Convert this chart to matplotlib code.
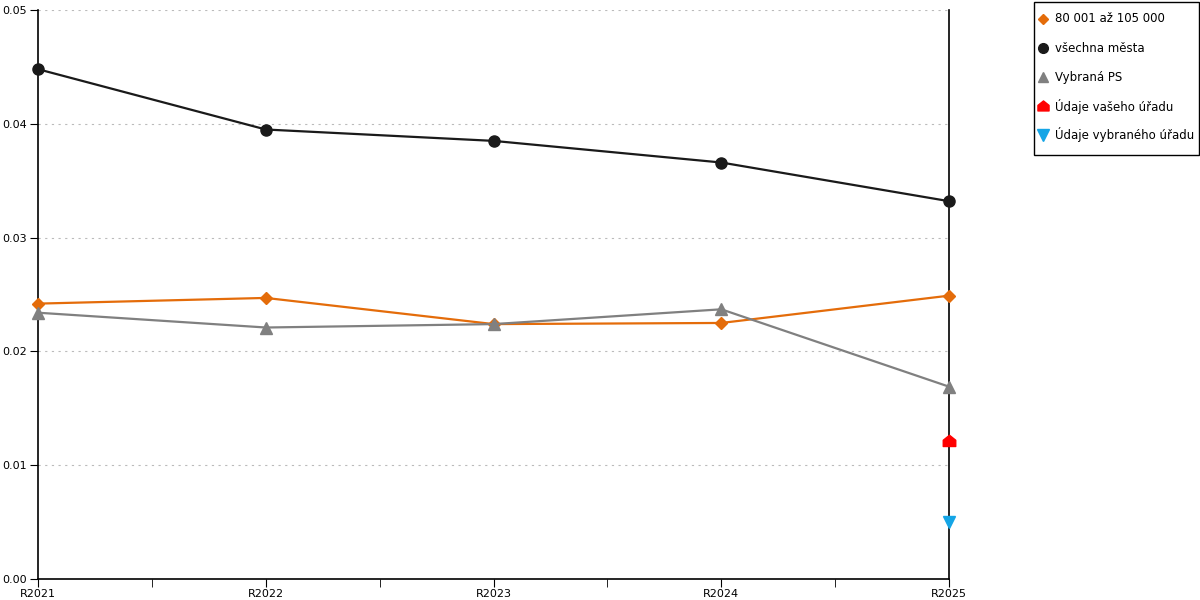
import matplotlib
matplotlib.use("Agg")
import matplotlib.pyplot as plt
from matplotlib.path import Path
from matplotlib.patches import Rectangle
from matplotlib.lines import Line2D

years = ["R2021", "R2022", "R2023", "R2024", "R2025"]

# values
group_80_105 = [0.0242, 0.0247, 0.0224, 0.0225, 0.0249]
all_cities = [0.0448, 0.0395, 0.0385, 0.0366, 0.0332]
selected_ps = [0.0234, 0.0221, 0.0224, 0.0237, 0.0169]
your_office = [0.0121]
selected_office = [0.0050]

plt.rcParams['font.family'] = ['DejaVu Sans']

fig = plt.figure(figsize=(12, 6), dpi=100)
ax = fig.add_axes([0.0317, 0.035, 0.7592, 0.9483])

x = list(range(len(years)))
last = [x[-1]]

# house-shaped marker for "Údaje vašeho úřadu"
house = Path([(-1, -0.8), (1, -0.8), (1, 0.2), (0, 1), (-1, 0.2), (-1, -0.8)],
             [Path.MOVETO, Path.LINETO, Path.LINETO, Path.LINETO, Path.LINETO, Path.CLOSEPOLY])

ax.plot(x, group_80_105, color="#e46c0a", lw=1.6, marker="D", ms=6,
        label="80 001 až 105 000", zorder=3, clip_on=False)
ax.plot(x, all_cities, color="#1a1a1a", lw=1.6, marker="o", ms=8,
        label="všechna města", zorder=4, clip_on=False)
ax.plot(x, selected_ps, color="#808080", lw=1.6, marker="^", ms=8,
        label="Vybraná PS", zorder=3, clip_on=False)
ax.plot(last, your_office, color="#ff0000", lw=0, marker=house, ms=9,
        label="Údaje vašeho úřadu", zorder=5, clip_on=False)
ax.plot(last, selected_office, color="#14a5e6", lw=0, marker="v", ms=9,
        label="Údaje vybraného úřadu", zorder=5, clip_on=False)

ax.set_xlim(0, len(years) - 1)
ax.set_ylim(0, 0.05)
ax.set_yticks([0, 0.01, 0.02, 0.03, 0.04, 0.05])
ax.set_yticklabels(["%.2f" % v for v in [0, 0.01, 0.02, 0.03, 0.04, 0.05]])
ax.set_xticks(x)
ax.set_xticklabels(years)
ax.set_xticks([i + 0.5 for i in x[:-1]], minor=True)
ax.tick_params(axis="x", which="both", direction="out", length=6, pad=1, labelsize=8)
ax.tick_params(axis="y", direction="out", length=6, pad=2, labelsize=8)

ax.grid(axis="y", color="#bbbbbb", linestyle=(0, (2, 4)), lw=0.8)
ax.spines["top"].set_visible(False)
for s in ["left", "bottom", "right"]:
    ax.spines[s].set_color("black")
    ax.spines[s].set_linewidth(1.2)

# legend box on the right, entries evenly spaced
fig.patches.append(Rectangle((1034 / 1200, 1 - 155 / 600), 165 / 1200, 153 / 600,
                             transform=fig.transFigure, fill=False,
                             ec="black", lw=1))
for i, line in enumerate(ax.get_lines()):
    y = 1 - (19 + 29 * i) / 600
    fig.add_artist(Line2D([1043 / 1200], [y], transform=fig.transFigure,
                          marker=line.get_marker(), color=line.get_color(),
                          ms=line.get_markersize() - 1, lw=0))
    fig.text(1055 / 1200, y, line.get_label(), fontsize=8.5, va="center", ha="left")

fig.savefig("out.png", dpi=100)
